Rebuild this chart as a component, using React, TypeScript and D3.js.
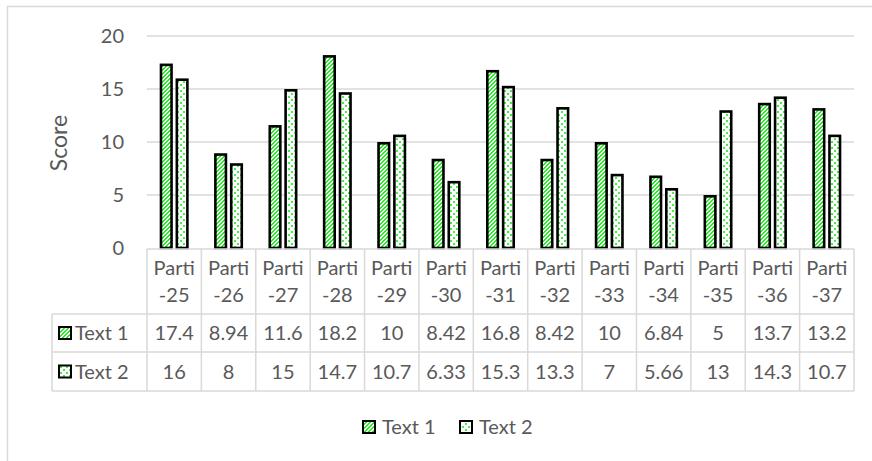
import React from "react";
import * as d3 from "d3";

const categories = ["Parti-25","Parti-26","Parti-27","Parti-28","Parti-29","Parti-30","Parti-31","Parti-32","Parti-33","Parti-34","Parti-35","Parti-36","Parti-37"];
const seriesNames = ["Text 1", "Text 2"];
const text1 = [17.4, 8.94, 11.6, 18.2, 10, 8.42, 16.8, 8.42, 10, 6.84, 5, 13.7, 13.2];
const text2 = [16, 8, 15, 14.7, 10.7, 6.33, 15.3, 13.3, 7, 5.66, 13, 14.3, 10.7];
const text1Labels = ["17.4","8.94","11.6","18.2","10","8.42","16.8","8.42","10","6.84","5","13.7","13.2"];
const text2Labels = ["16","8","15","14.7","10.7","6.33","15.3","13.3","7","5.66","13","14.3","10.7"];
const yTicks = [0, 5, 10, 15, 20];

const W = 872, H = 461;
const FONT = "Lato, 'Open Sans', sans-serif";
const TXT = "#595959";
const GRID = "#d9d9d9";
const GREEN = "#22ee22";
const FS = 20;

export default function App() {
  const left = 147, right = 854, top = 36, bottom = 248;
  const x = d3.scaleBand<string>().domain(categories).range([left, right]).padding(0);
  const y = d3.scaleLinear().domain([0, 20]).range([bottom, top]);
  const xs = d3.scaleBand<string>().domain(seriesNames).range([-14.5, 14.5]).paddingInner(0.17);
  const seriesVals = [text1, text2];
  const seriesLabels = [text1Labels, text2Labels];
  const fills = ["url(#stripes)", "url(#dots)"];
  const sw = 2.6;

  const tTop = 249, tHead = 314, tRow1 = 352, tRow2 = 391, tLeft = 52;
  const rowCenters = [(tHead + tRow1) / 2, (tRow1 + tRow2) / 2];
  const stripePx = [0, 1, 2, 3].flatMap(r => [(3 - r + 4) % 4, (4 - r) % 4].map(c => ({ r, c })));

  return (
    <svg width={W} height={H} style={{ position: "absolute", left: 0, top: 0, background: "#fff" }} fontFamily={FONT}>
      <defs>
        <pattern id="stripes" width="4" height="4" patternUnits="userSpaceOnUse">
          <rect width="4" height="4" fill="#fff" />
          {stripePx.map((p, i) => (
            <rect key={i} x={p.c} y={p.r} width={1} height={1} fill={GREEN} shapeRendering="crispEdges" />
          ))}
        </pattern>
        <pattern id="dots" width="6" height="6" patternUnits="userSpaceOnUse">
          <rect width="6" height="6" fill="#fff" />
          <rect x={0} y={0} width={2} height={2} fill="#44ee44" shapeRendering="crispEdges" />
          <rect x={3} y={3} width={2} height={2} fill="#44ee44" shapeRendering="crispEdges" />
        </pattern>
      </defs>
      <rect x={7.5} y={6.5} width={W + 20} height={H + 20} fill="none" stroke={GRID} strokeWidth={1.5} />

      {yTicks.filter(t => t > 0).map(t => (
        <line key={t} x1={left} x2={right} y1={y(t)} y2={y(t)} stroke={GRID} strokeWidth={1.5} />
      ))}
      {yTicks.map(t => (
        <text key={t} x={124} y={y(t)} dy="0.36em" textAnchor="end" fontSize={FS} fill={TXT}>{t}</text>
      ))}
      <text transform={`translate(67,${(top + bottom) / 2 + 1}) rotate(-90)`} textAnchor="middle" fontSize={23} fill={TXT}>Score</text>

      {categories.map((c, i) => {
        const cx = (x(c) as number) + x.bandwidth() / 2;
        return seriesNames.map((s, k) => {
          const v = seriesVals[k][i];
          const bx = cx + (xs(s) as number);
          return (
            <rect key={c + s} x={bx + sw / 2} y={y(v) + sw / 2} width={xs.bandwidth() - sw} height={y(0) - y(v) - sw / 2}
              fill={fills[k]} stroke="#000" strokeWidth={sw} />
          );
        });
      })}

      <g stroke={GRID} strokeWidth={1.5}>
        <line x1={left} x2={right} y1={tTop} y2={tTop} />
        <line x1={tLeft} x2={right} y1={tHead} y2={tHead} />
        <line x1={tLeft} x2={right} y1={tRow1} y2={tRow1} />
        <line x1={tLeft} x2={right} y1={tRow2} y2={tRow2} />
        <line x1={tLeft} x2={tLeft} y1={tHead} y2={tRow2} />
        {categories.map(c => (
          <line key={c} x1={x(c)} x2={x(c)} y1={tTop} y2={tRow2} />
        ))}
        <line x1={right} x2={right} y1={tTop} y2={tRow2} />
      </g>
      {categories.map(c => {
        const cx = (x(c) as number) + x.bandwidth() / 2;
        const [a, b] = c.split("-");
        return (
          <g key={c} fontSize={FS} fill={TXT} textAnchor="middle">
            <text x={cx} y={268} dy="0.36em">{a}</text>
            <text x={cx} y={295} dy="0.36em">{"-" + b}</text>
          </g>
        );
      })}
      {seriesLabels.map((labels, k) => (
        <g key={k} fontSize={FS} fill={TXT}>
          {categories.map((c, i) => (
            <text key={c} x={(x(c) as number) + x.bandwidth() / 2} y={rowCenters[k]} dy="0.36em" textAnchor="middle">{labels[i]}</text>
          ))}
          <rect x={59} y={rowCenters[k] - 6} width={12} height={12} fill={fills[k]} stroke="#000" strokeWidth={2} />
          <text x={75} y={rowCenters[k]} dy="0.36em">{seriesNames[k]}</text>
        </g>
      ))}

      {seriesNames.map((s, k) => {
        const lx = [363, 460][k];
        return (
          <g key={s}>
            <rect x={lx} y={421} width={12} height={12} fill={fills[k]} stroke="#000" strokeWidth={2} />
            <text x={lx + 19} y={427} dy="0.36em" fontSize={FS} fill={TXT}>{s}</text>
          </g>
        );
      })}
    </svg>
  );
}
